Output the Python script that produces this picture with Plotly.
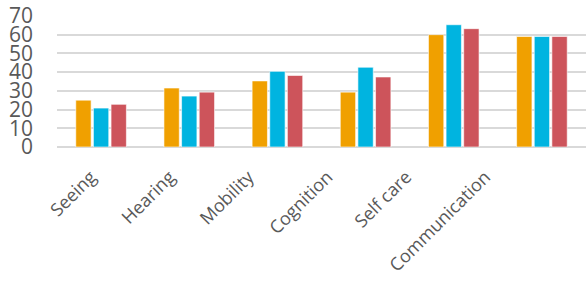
import plotly.graph_objects as go

categories = ["Seeing", "Hearing", "Mobility", "Cognition", "Self care", "Communication"]
series_a = [25, 31.5, 35.3, 29.3, 60, 59]
series_b = [20.8, 27.2, 40.4, 42.6, 65.3, 59]
series_c = [22.8, 29.3, 38.2, 37.4, 63.2, 59]
colors = ["#F0A000", "#00B4E0", "#CD545B"]
y_ticks = [0, 10, 20, 30, 40, 50, 60, 70]

fig = go.Figure()
for vals, col in zip([series_a, series_b, series_c], colors):
    fig.add_trace(go.Bar(x=categories, y=vals, hoverinfo="skip",
                         marker=dict(color=col, line=dict(color="rgba(255,255,255,0.6)", width=1))))
# invisible carrier trace for the category-label axis (labels are spaced tighter than the bars)
fig.add_trace(go.Scatter(x=categories, y=[0] * len(categories), mode="markers", xaxis="x2", yaxis="y2",
                         marker=dict(opacity=0), hoverinfo="skip", showlegend=False))

fig.update_layout(
    width=586, height=285,
    margin=dict(l=57, r=0, t=15, b=138),
    paper_bgcolor="white", plot_bgcolor="rgba(0,0,0,0)",
    barmode="group", bargap=0.4, bargroupgap=0.13,
    showlegend=False,
    font=dict(family="Open Sans", color="#595959"),
    xaxis=dict(showticklabels=False, showline=False, ticks="", automargin=False, showgrid=False),
    xaxis2=dict(anchor="y2", side="bottom", domain=[0.0412, 0.885], type="category",
                showgrid=False, zeroline=False, showline=False, ticks="",
                tickangle=-45, tickfont=dict(size=18, color="#595959"),
                ticklabelstandoff=15, ticklabelshift=-14, automargin=False),
    yaxis2=dict(anchor="x2", domain=[0, 1], range=[0, 70.5], showgrid=False, zeroline=False,
                showline=False, showticklabels=False, ticks="", automargin=False),
)
fig.layout.yaxis.update(range=[0, 70.5], tickvals=y_ticks, showgrid=True, gridcolor="#D9D9D9", gridwidth=1.5,
                        zeroline=True, zerolinecolor="#D9D9D9", zerolinewidth=1.5, automargin=False,
                        tickfont=dict(size=21, color="#595959"), ticks="", ticklabelstandoff=23)

fig.write_html("out.html", config={"displayModeBar": False},
               post_script="document.body.style.margin='0';")
